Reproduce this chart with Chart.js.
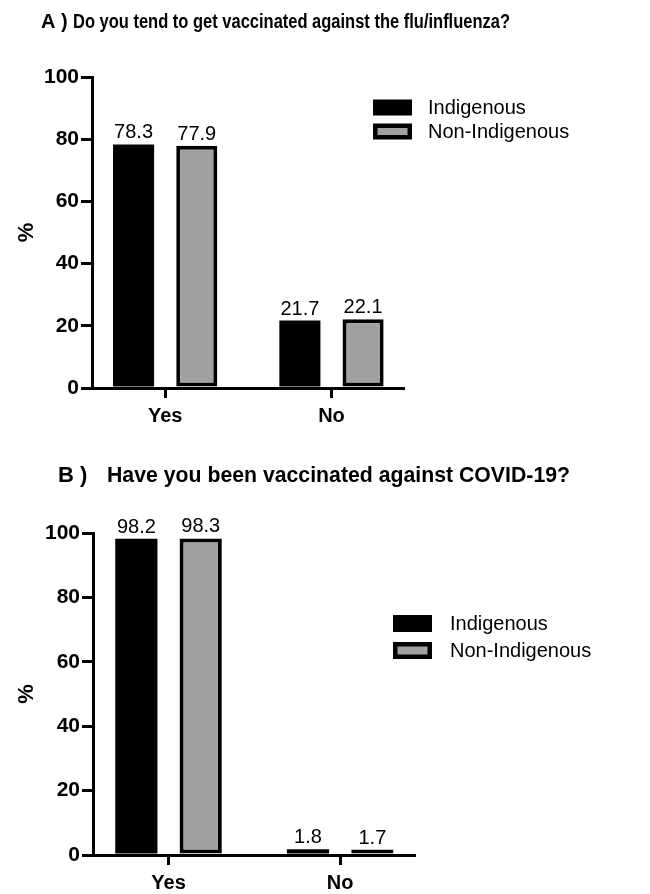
<!DOCTYPE html>
<html>
<head>
<meta charset="utf-8">
<script src="https://cdn.jsdelivr.net/npm/chart.js@4/dist/chart.umd.min.js"></script>
<style>
  html, body { margin: 0; padding: 0; background: #fff; }
  #wrap { position: relative; width: 650px; height: 894px; overflow: hidden; background: #fff; }
  canvas { position: absolute; left: 0; }
</style>
</head>
<body>
<div id="wrap">
  <canvas id="flu" width="650" height="455" style="top:0"></canvas>
  <canvas id="covid" width="650" height="439" style="top:455px"></canvas>
</div>
<script>
// Survey answers, percent of respondents
const categories = ['Yes', 'No'];
const seriesNames = ['Indigenous', 'Non-Indigenous'];
const fluIndigenous = [78.3, 21.7];
const fluNonIndigenous = [77.9, 22.1];
const covidIndigenous = [98.2, 1.8];
const covidNonIndigenous = [98.3, 1.7];
const percentTicks = [0, 20, 40, 60, 80, 100];
const fluTitle = ['A )', 'Do you tend to get vaccinated against the flu/influenza?'];
const covidTitle = ['B )', 'Have you been vaccinated against COVID-19?'];
const yAxisLabel = '%';

const FONT = "'Liberation Sans', Arial, Helvetica, sans-serif";
const seriesFill = ['#000000', '#a0a0a0'];

// Heading, legend and value labels drawn straight onto the canvas
const panelDecor = {
  id: 'panelDecor',
  afterDatasetsDraw(chart, args, opts) {
    const ctx = chart.ctx;
    ctx.save();
    ctx.fillStyle = '#000';
    ctx.font = `${opts.valueSize}px ${FONT}`;
    ctx.textAlign = 'center';
    ctx.textBaseline = 'alphabetic';
    chart.data.datasets.forEach((ds, di) => {
      const meta = chart.getDatasetMeta(di);
      meta.data.forEach((bar, i) => {
        ctx.fillText(ds.data[i].y.toFixed(1), bar.x, bar.y - opts.valueGap);
      });
    });
    ctx.restore();
  },
  afterDraw(chart, args, opts) {
    const ctx = chart.ctx;
    ctx.save();
    ctx.fillStyle = '#000';
    ctx.textAlign = 'left';
    ctx.textBaseline = 'alphabetic';
    ctx.font = `bold ${opts.titleSize}px ${FONT}`;
    ctx.fillText(opts.title[0], opts.tagX, opts.titleY);
    ctx.fillText(opts.title[1], opts.textX, opts.titleY, opts.textW);

    // legend
    ctx.font = `${opts.legendSize}px ${FONT}`;
    ctx.textBaseline = 'middle';
    chart.data.datasets.forEach((ds, i) => {
      const cy = opts.legendY + i * opts.legendGap;
      const bx = opts.legendX, bw = opts.boxW, bh = opts.boxH;
      ctx.fillStyle = '#000';
      ctx.fillRect(bx, cy - bh / 2, bw, bh);
      if (ds.backgroundColor !== '#000000') {
        const b = opts.boxBorder;
        ctx.fillStyle = ds.backgroundColor;
        ctx.fillRect(bx + b, cy - bh / 2 + b, bw - 2 * b, bh - 2 * b);
      }
      ctx.fillStyle = '#000';
      ctx.fillText(ds.label, opts.legendTextX, cy + 1);
    });
    ctx.restore();
  }
};

function makeDatasets(seriesA, seriesB) {
  return [seriesA, seriesB].map((values, s) => ({
    label: seriesNames[s],
    data: values.map((v, i) => ({ x: i, y: v })),
    backgroundColor: seriesFill[s],
    borderColor: '#000000',
    borderWidth: s === 0 ? 0 : 4,
    borderSkipped: false
  }));
}

function makeChart(id, seriesA, seriesB, geo, decor) {
  return new Chart(document.getElementById(id), {
    type: 'bar',
    data: { datasets: makeDatasets(seriesA, seriesB) },
    plugins: [panelDecor],
    options: {
      responsive: false,
      animation: false,
      devicePixelRatio: 1,
      categoryPercentage: geo.catPct,
      barPercentage: geo.barPct,
      layout: { padding: { top: geo.top, right: geo.right, bottom: 0, left: 0 } },
      plugins: {
        legend: { display: false },
        tooltip: { enabled: false },
        panelDecor: decor
      },
      scales: {
        x: {
          type: 'linear',
          offset: false,
          min: -0.44,
          max: 1.43,
          afterBuildTicks: (scale) => { scale.ticks = categories.map((c, i) => ({ value: i })); },
          afterFit: (scale) => { scale.height = geo.xHeight; },
          ticks: {
            callback: (v) => categories[v],
            font: { family: FONT, size: 20, weight: 'bold' },
            color: '#000',
            padding: 6,
            maxRotation: 0,
            autoSkip: false
          },
          grid: { display: true, offset: false, drawOnChartArea: false, drawTicks: true, tickLength: 10, color: '#000', lineWidth: 3 },
          border: { display: true, color: '#000', width: 3 }
        },
        y: {
          min: 0,
          max: 100,
          afterBuildTicks: (scale) => { scale.ticks = percentTicks.map(v => ({ value: v })); },
          afterFit: (scale) => { scale.width = geo.left; },
          ticks: {
            font: { family: FONT, size: 21, weight: 'bold' },
            color: '#000',
            padding: 2
          },
          grid: { display: true, drawOnChartArea: false, drawTicks: true, tickLength: 11, color: '#000', lineWidth: 3 },
          border: { display: true, color: '#000', width: 3 },
          title: {
            display: true,
            text: yAxisLabel,
            color: '#000',
            font: { family: FONT, size: 22, weight: 'bold' },
            padding: { top: 14, bottom: 0 }
          }
        }
      }
    }
  });
}

makeChart('flu', fluIndigenous, fluNonIndigenous,
  { top: 77, right: 247, left: 92, xHeight: 67, catPct: 0.76, barPct: 0.65 },
  {
    title: fluTitle, titleSize: 20, titleY: 28, tagX: 41, textX: 73, textW: 437,
    legendX: 373, legendY: 107.5, legendGap: 24, boxW: 39, boxH: 16, boxBorder: 4.5,
    legendTextX: 428, legendSize: 20, valueSize: 20, valueGap: 6
  });

makeChart('covid', covidIndigenous, covidNonIndigenous,
  { top: 78, right: 236, left: 93, xHeight: 39, catPct: 0.75, barPct: 0.656 },
  {
    title: covidTitle, titleSize: 22, titleY: 27, tagX: 58, textX: 107, textW: 463,
    legendX: 393, legendY: 168.5, legendGap: 27, boxW: 39, boxH: 17, boxBorder: 4.5,
    legendTextX: 450, legendSize: 20, valueSize: 20, valueGap: 6
  });
</script>
</body>
</html>
